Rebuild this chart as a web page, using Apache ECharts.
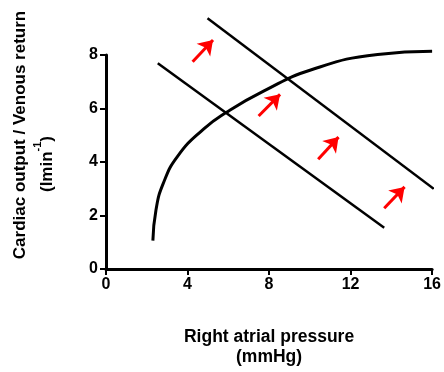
<!DOCTYPE html>
<html>
<head>
<meta charset="utf-8">
<script src="https://cdn.jsdelivr.net/npm/echarts@6/dist/echarts.min.js"></script>
<style>
  html, body { margin: 0; padding: 0; background: #fff; }
  #chart { width: 444px; height: 372px; }
</style>
</head>
<body>
<div id="chart"></div>
<script>
// cardiac output curve (right atrial pressure, output)
const cardiacCurve = [
  [2.3, 1.06], [2.45, 2.2], [2.8, 3.18], [3.52, 4.22], [4.8, 5.24],
  [5.87, 5.84], [7.73, 6.65], [10.08, 7.45], [13.33, 8.02], [16, 8.14]
];
// venous return lines
const venousLow = [[2.54, 7.69], [13.65, 1.54]];
const venousHigh = [[4.98, 9.37], [16.08, 3.0]];
// red arrows: [tail, head]
const arrows = [
  [[4.25, 7.75], [5.25, 8.56]],
  [[7.49, 5.72], [8.54, 6.53]],
  [[10.41, 4.1], [11.41, 4.93]],
  [[13.65, 2.27], [14.65, 3.07]]
];
const xTicks = [0, 4, 8, 12, 16];
const yTicks = [0, 2, 4, 6, 8];

const font = "'Liberation Sans', Arial, sans-serif";
const chart = echarts.init(document.getElementById("chart"), null, { renderer: "canvas" });

const axisCommon = {
  type: "value",
  axisLine: { show: true, lineStyle: { color: "#000", width: 3 } },
  axisTick: { show: true, length: 6, lineStyle: { color: "#000", width: 2 } },
  splitLine: { show: false },
  axisLabel: { color: "#000", fontFamily: font, fontWeight: "bold", fontSize: 16 }
};

chart.setOption({
  animation: false,
  grid: { left: 106, right: 9, top: 55, bottom: 98 },
  xAxis: {
    ...axisCommon,
    min: xTicks[0],
    max: xTicks[xTicks.length - 1],
    interval: 4,
    axisLabel: { ...axisCommon.axisLabel, margin: 8 },
    name: "Right atrial pressure\n(mmHg)",
    nameLocation: "middle",
    nameGap: 58,
    nameTextStyle: { color: "#000", fontFamily: font, fontWeight: "bold", fontSize: 17.5, lineHeight: 20 }
  },
  yAxis: {
    ...axisCommon,
    min: yTicks[0],
    max: yTicks[yTicks.length - 1],
    interval: 2,
    axisLabel: { ...axisCommon.axisLabel, margin: 8 }
  },
  graphic: [
    {
      type: "text",
      x: 20, y: 135, rotation: Math.PI / 2,
      style: {
        text: "Cardiac output / Venous return",
        font: "bold 17px " + font,
        fill: "#000", align: "center", verticalAlign: "middle"
      }
    },
    {
      type: "text",
      x: 44, y: 164, rotation: Math.PI / 2,
      style: {
        text: "{a|(lmin}{s|-1}{a|)}",
        fill: "#000", align: "center", verticalAlign: "middle",
        rich: {
          a: { font: "bold 17px " + font, fill: "#000", lineHeight: 24, verticalAlign: "bottom" },
          s: { font: "bold 11px " + font, fill: "#000", lineHeight: 11, verticalAlign: "top" }
        }
      }
    }
  ],
  series: [
    {
      type: "line",
      data: cardiacCurve,
      smooth: 0.5,
      showSymbol: false,
      clip: false,
      lineStyle: { color: "#000", width: 3 }
    },
    {
      type: "line",
      data: venousLow,
      showSymbol: false,
      clip: false,
      lineStyle: { color: "#000", width: 2.5 }
    },
    {
      type: "line",
      data: venousHigh,
      showSymbol: false,
      clip: false,
      lineStyle: { color: "#000", width: 2.5 }
    },
    {
      type: "lines",
      coordinateSystem: "cartesian2d",
      clip: false,
      symbol: ["none", "arrow"],
      symbolSize: 14,
      lineStyle: { color: "#ff0000", width: 3, opacity: 1 },
      data: arrows.map(a => ({ coords: a }))
    }
  ]
});
</script>
</body>
</html>
